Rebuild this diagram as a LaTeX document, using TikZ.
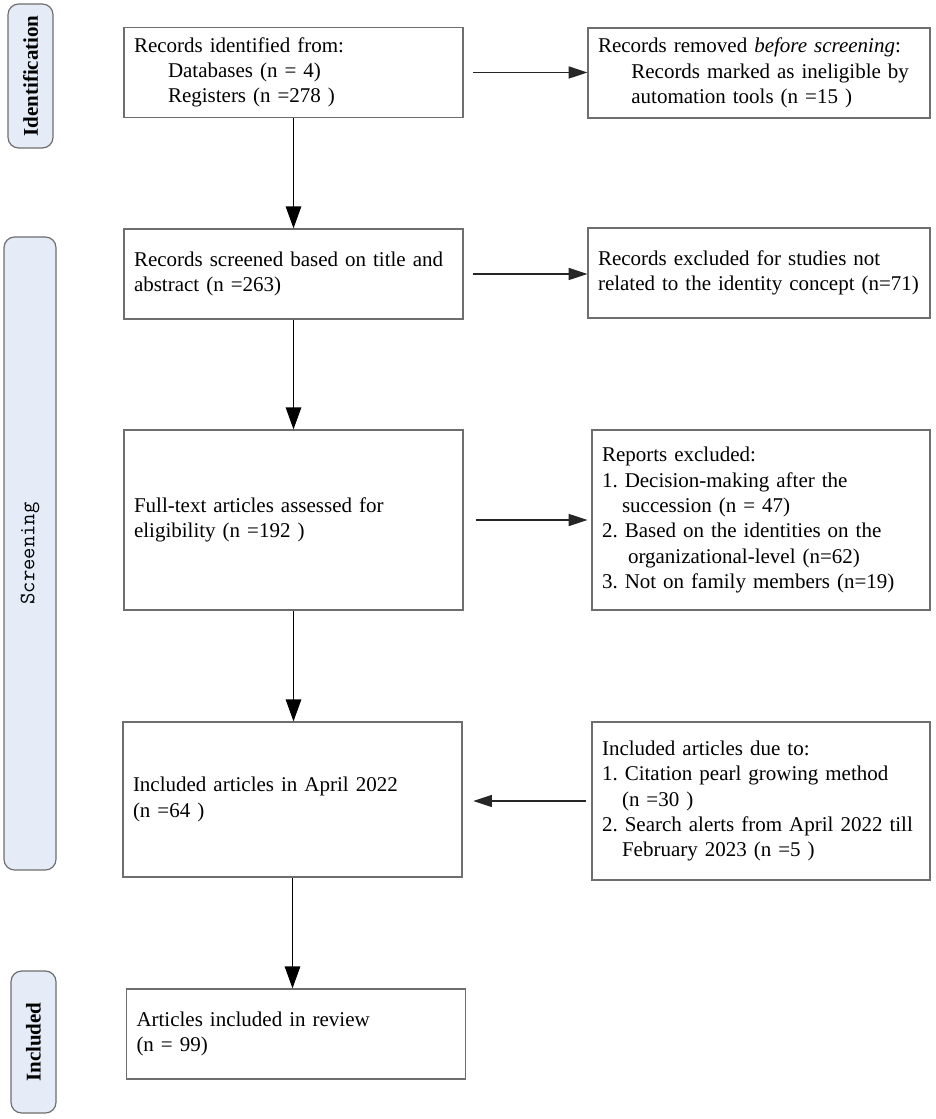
\documentclass[tikz,border=0pt]{standalone}
\usepackage{fontspec}
\setmainfont{Liberation Serif}
\usepackage{tikz}
\usetikzlibrary{arrows.meta}
\definecolor{boxgray}{RGB}{110,110,110}
\definecolor{barfill}{RGB}{229,236,247}
\frenchspacing
\tikzset{
leftbox/.style={draw=boxgray, line width=0.9pt, align=left, inner xsep=7.5pt, text width=239.25pt},
rightbox/.style={draw=boxgray, line width=0.9pt, align=left, inner xsep=7.5pt, text width=#1},
rightbox/.default=241.5pt,
phaseBar/.style={draw=boxgray, fill=barfill, line width=0.9pt, rounded corners=8pt, rotate=90, inner sep=0pt},
downArrow/.style={-{Triangle[length=16.5pt,width=11.5pt]}, line width=1.4pt},
sideArrow/.style={-{Triangle[length=14pt,width=9pt]}, line width=0.9pt, draw=black!85}
}

\begin{document}
\begin{tikzpicture}[x=0.75pt, y=-0.75pt, font=\fontsize{15.75}{19}\selectfont]
    \useasboundingbox (0,0) rectangle (935,1119);

    % phases
    \node[phaseBar, minimum width=108pt, minimum height=33.75pt] (p_1) at (30.5,76) {\bfseries Identification};
    \node[phaseBar, minimum width=474.75pt, minimum height=39pt] (p_2) at (30,553.5) {\ttfamily\fontsize{16.5}{19}\selectfont Screening};
    \node[phaseBar, minimum width=106.5pt, minimum height=33.75pt] (p_3) at (33.5,1042) {\bfseries Included};

    % main column
    \node[leftbox, minimum height=67.5pt] (r_1) at (293.5,72.5) {Records identified from:\\
        \hspace*{25.5pt}Databases (n = 4)\\
        \hspace*{25.5pt}Registers (n =278 )};
    \node[leftbox, minimum height=67.5pt] (r_2) at (293.5,274) {Records screened based on title and\\
        abstract (n =263)};
    \node[leftbox, minimum height=135pt] (r_3) at (293.5,520) {Full-text articles assessed for\\
        eligibility (n =192 )};
    \node[leftbox, minimum height=116.25pt] (r_4) at (292.5,799.5) {Included articles in April 2022\\
        (n =64 )};
    \node[leftbox, minimum height=67.5pt] (r_5) at (296,1034) {Articles included in review\\
        (n = 99)};

    % side column
    \node[rightbox, minimum height=67.5pt] (s_1) at (759,73) {Records removed \textit{before screening}:\\
        \hspace*{25pt}Records marked as ineligible by\\
        \hspace*{25pt}automation tools (n =15 )};
    \node[rightbox, minimum height=67.5pt] (s_2) at (759,273) {Records excluded for studies not\\
        related to the identity concept (n=71)};
    \node[rightbox=238.5pt, minimum height=135pt] (s_3) at (761,520) {Reports excluded:\\
        1. Decision-making after the\\
        \hspace*{15pt}succession (n = 47)\\
        2. Based on the identities on the\\
        \hspace*{19.5pt}organizational-level (n=62)\\
        3. Not on family members (n=19)};
    \node[rightbox=238.5pt, minimum height=118.5pt] (s_4) at (761,801) {Included articles due to:\\
        1. Citation pearl growing method\\
        \hspace*{15pt}(n =30 )\\
        2. Search alerts from April 2022 till\\
        \hspace*{15pt}February 2023 (n =5 )};

    % arrows
    \foreach \a/\b in {r_1/r_2, r_2/r_3, r_3/r_4, r_4/r_5}
        \draw[downArrow] (\a.south) -- (\a.south |- \b.north);
    \draw[sideArrow, shorten <=7pt] (r_1.east) -- (r_1.east -| s_1.west);
    \draw[sideArrow, shorten <=7pt] (r_2.east) -- (r_2.east -| s_2.west);
    \draw[sideArrow, shorten <=9pt, shorten >=3pt] (r_3.east) -- (r_3.east -| s_3.west);
    \draw[sideArrow, shorten <=4pt, shorten >=8pt] (s_4.west) -- (s_4.west -| r_4.east);
\end{tikzpicture}
\end{document}
